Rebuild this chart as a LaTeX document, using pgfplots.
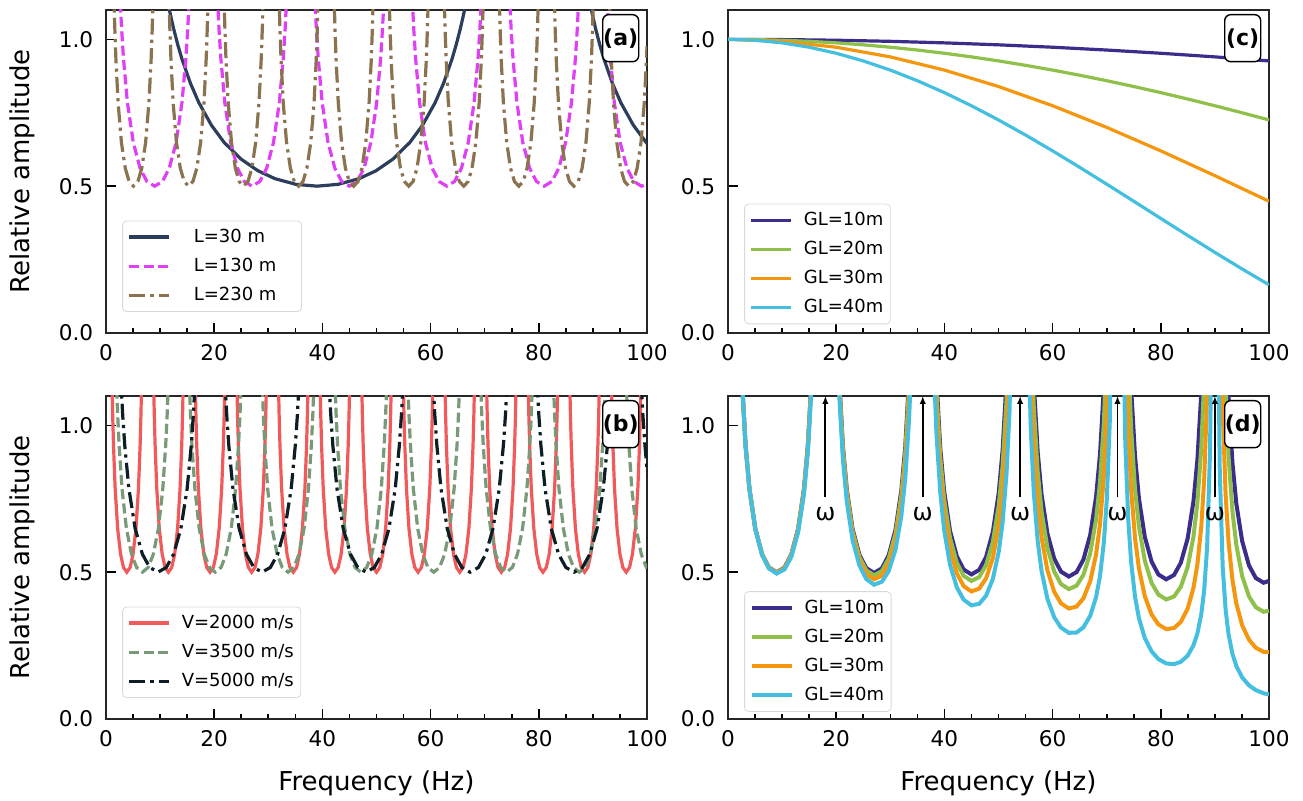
\documentclass[border=0pt]{standalone}
\usepackage{fontspec}
\setmainfont{DejaVu Sans}
\usepackage{pgfplots}
\pgfplotsset{compat=1.18}
\usetikzlibrary{arrows.meta}

\definecolor{cNavy}{HTML}{2C3E5C}
\definecolor{cMag}{HTML}{E040F5}
\definecolor{cBrown}{HTML}{8B7350}
\definecolor{cRed}{HTML}{F05A5A}
\definecolor{cSage}{HTML}{789A78}
\definecolor{cBlk}{HTML}{0D1F24}
\definecolor{cPur}{HTML}{3B2D8C}
\definecolor{cGrn}{HTML}{8FC04A}
\definecolor{cOra}{HTML}{F5960F}
\definecolor{cCya}{HTML}{45BFE0}

\tikzset{
  plab/.style={draw=black, line width=0.7pt, rounded corners=3pt, fill=white,
    inner sep=0pt, minimum width=18pt, minimum height=23.5pt,
    font=\bfseries\fontsize{11}{13}\selectfont, anchor=north east, xshift=-3.8pt, yshift=-2pt},
}
\pgfplotsset{
  panel/.style={
    scale only axis, width=270.5pt, height=161.5pt,
    anchor=south west,
    xmin=0, xmax=100, ymin=0, ymax=1.1,
    xtick={0,20,40,60,80,100}, ytick={0,0.5,1},
    minor x tick num=3,
    tick align=inside, xtick pos=left, ytick pos=left,
    major tick length=5pt, minor tick length=2.5pt,
    every tick/.append style={black, line width=0.8pt},
    axis line style={black!85, line width=0.8pt},
    tick label style={font=\fontsize{10.8}{12}\selectfont},
    /pgf/number format/assume math mode=true,
    yticklabel style={/pgf/number format/fixed, /pgf/number format/fixed zerofill, /pgf/number format/precision=1, xshift=-2.9pt},
    xticklabel style={yshift=-2.4pt},
    label style={font=\fontsize{13}{15}\selectfont},
    ylabel style={at={(axis description cs:-0.155,0.5)}, anchor=center},
    xlabel style={at={(axis description cs:0.5,-0.2)}, anchor=center},
    legend cell align=left,
    legend image code/.code={\draw[##1] (0pt,0pt) -- (20pt,0pt);},
    legend style={draw=black!15, rounded corners=2pt, fill=white,
      font=\fontsize{9}{10.8}\selectfont, inner xsep=2.5pt, inner ysep=3pt,
      row sep=4.4pt, nodes={inner sep=1pt}, anchor=south west,
      /tikz/every odd column/.append style={column sep=4.5pt}},
  },
}

\begin{document}
\begin{tikzpicture}
\path[use as bounding box] (0,0) rectangle (651.5pt,400.5pt);

% ---------------- (a) ----------------
\begin{axis}[panel, at={(53pt,234pt)}, ylabel={Relative amplitude},
  legend style={at={(0.03,0.065)}}]
\addplot[cNavy, line width=1.6pt] coordinates {
(10.92,1.1743)(11.70,1.1013)(12.48,1.0379)(13.26,0.9822)(14.04,0.9331)(15.60,0.8507)(17.16,0.7844)(19.50,0.7071)(21.84,0.6489)(24.96,0.5922)(28.08,0.5526)(31.20,0.5257)(35.10,0.5062)(39.00,0.5)(42.90,0.5062)(46.80,0.5257)(49.92,0.5526)(53.04,0.5922)(56.16,0.6489)(58.50,0.7071)(60.84,0.7844)(62.40,0.8507)(63.96,0.9331)(64.74,0.9822)(65.52,1.0379)(66.30,1.1013)(67.08,1.1743)
(88.92,1.1743)(89.70,1.1013)(90.48,1.0379)(91.26,0.9822)(92.04,0.9331)(93.60,0.8507)(95.16,0.7844)(97.50,0.7071)(99.84,0.6489)(100,0.6456)};
\addlegendentry{\hspace*{6pt}L=30 m\hspace*{9pt}}
\addplot[cMag, line width=1.6pt, dash pattern=on 5pt off 2.2pt] coordinates {
(2.52,1.1743)(2.88,1.0379)(3.24,0.9331)(3.96,0.7844)(5.04,0.6489)(6.30,0.5612)(7.56,0.5162)(9.00,0.5)(10.44,0.5162)(11.70,0.5612)(12.96,0.6489)(14.04,0.7844)(14.76,0.9331)(15.12,1.0379)(15.48,1.1743)
(20.52,1.1743)(20.88,1.0379)(21.24,0.9331)(21.96,0.7844)(23.04,0.6489)(24.30,0.5612)(25.56,0.5162)(27.00,0.5)(28.44,0.5162)(29.70,0.5612)(30.96,0.6489)(32.04,0.7844)(32.76,0.9331)(33.12,1.0379)(33.48,1.1743)
(38.52,1.1743)(38.88,1.0379)(39.24,0.9331)(39.96,0.7844)(41.04,0.6489)(42.30,0.5612)(43.56,0.5162)(45.00,0.5)(46.44,0.5162)(47.70,0.5612)(48.96,0.6489)(50.04,0.7844)(50.76,0.9331)(51.12,1.0379)(51.48,1.1743)
(56.52,1.1743)(56.88,1.0379)(57.24,0.9331)(57.96,0.7844)(59.04,0.6489)(60.30,0.5612)(61.56,0.5162)(63.00,0.5)(64.44,0.5162)(65.70,0.5612)(66.96,0.6489)(68.04,0.7844)(68.76,0.9331)(69.12,1.0379)(69.48,1.1743)
(74.52,1.1743)(74.88,1.0379)(75.24,0.9331)(75.96,0.7844)(77.04,0.6489)(78.30,0.5612)(79.56,0.5162)(81.00,0.5)(82.44,0.5162)(83.70,0.5612)(84.96,0.6489)(86.04,0.7844)(86.76,0.9331)(87.12,1.0379)(87.48,1.1743)
(92.52,1.1743)(92.88,1.0379)(93.24,0.9331)(93.96,0.7844)(95.04,0.6489)(96.30,0.5612)(97.56,0.5162)(99.00,0.5)(100,0.5077)};
\addlegendentry{\hspace*{6pt}L=130 m\hspace*{9pt}}
\addplot[cBrown, line width=1.6pt, dash pattern=on 8pt off 2.6pt on 1.6pt off 2.6pt] coordinates {
(1.424,1.1743)(1.628,1.0379)(1.831,0.9331)(2.238,0.7844)(2.849,0.6489)(3.561,0.5612)(4.273,0.5162)(5.087,0.5)(5.901,0.5162)(6.613,0.5612)(7.325,0.6489)(7.936,0.7844)(8.343,0.9331)(8.546,1.0379)(8.750,1.1743)
(11.598,1.1743)(11.802,1.0379)(12.005,0.9331)(12.412,0.7844)(13.023,0.6489)(13.735,0.5612)(14.447,0.5162)(15.261,0.5)(16.075,0.5162)(16.787,0.5612)(17.499,0.6489)(18.110,0.7844)(18.517,0.9331)(18.720,1.0379)(18.924,1.1743)
(21.772,1.1743)(21.976,1.0379)(22.179,0.9331)(22.586,0.7844)(23.197,0.6489)(23.909,0.5612)(24.621,0.5162)(25.435,0.5)(26.249,0.5162)(26.961,0.5612)(27.673,0.6489)(28.284,0.7844)(28.691,0.9331)(28.894,1.0379)(29.098,1.1743)
(31.946,1.1743)(32.150,1.0379)(32.353,0.9331)(32.760,0.7844)(33.371,0.6489)(34.083,0.5612)(34.795,0.5162)(35.609,0.5)(36.423,0.5162)(37.135,0.5612)(37.847,0.6489)(38.458,0.7844)(38.865,0.9331)(39.068,1.0379)(39.272,1.1743)
(42.120,1.1743)(42.324,1.0379)(42.527,0.9331)(42.934,0.7844)(43.545,0.6489)(44.257,0.5612)(44.969,0.5162)(45.783,0.5)(46.597,0.5162)(47.309,0.5612)(48.021,0.6489)(48.632,0.7844)(49.039,0.9331)(49.242,1.0379)(49.446,1.1743)
(52.294,1.1743)(52.498,1.0379)(52.701,0.9331)(53.108,0.7844)(53.719,0.6489)(54.431,0.5612)(55.143,0.5162)(55.957,0.5)(56.771,0.5162)(57.483,0.5612)(58.195,0.6489)(58.806,0.7844)(59.213,0.9331)(59.416,1.0379)(59.620,1.1743)
(62.468,1.1743)(62.672,1.0379)(62.875,0.9331)(63.282,0.7844)(63.893,0.6489)(64.605,0.5612)(65.317,0.5162)(66.131,0.5)(66.945,0.5162)(67.657,0.5612)(68.369,0.6489)(68.980,0.7844)(69.387,0.9331)(69.590,1.0379)(69.794,1.1743)
(72.642,1.1743)(72.846,1.0379)(73.049,0.9331)(73.456,0.7844)(74.067,0.6489)(74.779,0.5612)(75.491,0.5162)(76.305,0.5)(77.119,0.5162)(77.831,0.5612)(78.543,0.6489)(79.154,0.7844)(79.561,0.9331)(79.764,1.0379)(79.968,1.1743)
(82.816,1.1743)(83.020,1.0379)(83.223,0.9331)(83.630,0.7844)(84.241,0.6489)(84.953,0.5612)(85.665,0.5162)(86.479,0.5)(87.293,0.5162)(88.005,0.5612)(88.717,0.6489)(89.328,0.7844)(89.735,0.9331)(89.938,1.0379)(90.142,1.1743)
(92.990,1.1743)(93.194,1.0379)(93.397,0.9331)(93.804,0.7844)(94.415,0.6489)(95.127,0.5612)(95.839,0.5162)(96.653,0.5)(97.467,0.5162)(98.179,0.5612)(98.891,0.6489)(99.502,0.7844)(99.909,0.9331)(100,0.9771)};
\addlegendentry{\hspace*{6pt}L=230 m\hspace*{9pt}}
\node[plab] at (rel axis cs:1,1) {(a)};
\end{axis}

% ---------------- (c) ----------------
\begin{axis}[panel, at={(364pt,234pt)}, legend style={at={(0.03,0.027)}}]
\addplot[cPur, line width=1.6pt] coordinates {(0,1)(10,0.99925)(20,0.99700)(30,0.99325)(40,0.98803)(50,0.98133)(60,0.97318)(70,0.96360)(80,0.95262)(90,0.94027)(100,0.92657)};
\addlegendentry{GL=10m}
\addplot[cGrn, line width=1.6pt] coordinates {(0,1)(5,0.99925)(10,0.99700)(15,0.99325)(20,0.98803)(25,0.98133)(30,0.97318)(35,0.96360)(40,0.95262)(45,0.94027)(50,0.92657)(55,0.91157)(60,0.89531)(65,0.87782)(70,0.85916)(75,0.83938)(80,0.81853)(85,0.79665)(90,0.77383)(95,0.75010)(100,0.72553)};
\addlegendentry{GL=20m}
\addplot[cOra, line width=1.6pt] coordinates {(0,1)(10,0.99325)(20,0.97318)(30,0.94027)(40,0.89531)(50,0.83938)(60,0.77383)(70,0.70019)(80,0.62021)(90,0.53570)(100,0.44862)};
\addlegendentry{GL=30m}
\addplot[cCya, line width=1.6pt] coordinates {(0,1)(5,0.99700)(10,0.98803)(15,0.97318)(20,0.95262)(25,0.92657)(30,0.89531)(35,0.85916)(40,0.81853)(45,0.77383)(50,0.72553)(55,0.67414)(60,0.62021)(65,0.56425)(70,0.50687)(75,0.44862)(80,0.39008)(85,0.33183)(90,0.27441)(95,0.21834)(100,0.16416)};
\addlegendentry{GL=40m}
\node[plab] at (rel axis cs:1,1) {(c)};
\end{axis}

% ---------------- (b) ----------------
\begin{axis}[panel, at={(53pt,41pt)}, ylabel={Relative amplitude}, xlabel={Frequency (Hz)},
  legend style={at={(0.03,0.065)}}]
\addplot[cRed, line width=1.6pt] coordinates {
(1.077,1.1743)(1.231,1.0379)(1.385,0.9331)(1.692,0.7844)(2.154,0.6489)(2.692,0.5612)(3.231,0.5162)(3.846,0.5)(4.462,0.5162)(5.000,0.5612)(5.538,0.6489)(6.000,0.7844)(6.308,0.9331)(6.462,1.0379)(6.615,1.1743)
(8.769,1.1743)(8.923,1.0379)(9.077,0.9331)(9.384,0.7844)(9.846,0.6489)(10.384,0.5612)(10.923,0.5162)(11.538,0.5)(12.154,0.5162)(12.692,0.5612)(13.230,0.6489)(13.692,0.7844)(14.000,0.9331)(14.154,1.0379)(14.307,1.1743)
(16.462,1.1743)(16.616,1.0379)(16.770,0.9331)(17.077,0.7844)(17.539,0.6489)(18.077,0.5612)(18.616,0.5162)(19.231,0.5)(19.847,0.5162)(20.385,0.5612)(20.923,0.6489)(21.385,0.7844)(21.693,0.9331)(21.847,1.0379)(22.000,1.1743)
(24.154,1.1743)(24.308,1.0379)(24.462,0.9331)(24.769,0.7844)(25.231,0.6489)(25.769,0.5612)(26.308,0.5162)(26.923,0.5)(27.539,0.5162)(28.077,0.5612)(28.615,0.6489)(29.077,0.7844)(29.385,0.9331)(29.539,1.0379)(29.692,1.1743)
(31.846,1.1743)(32.000,1.0379)(32.154,0.9331)(32.461,0.7844)(32.923,0.6489)(33.461,0.5612)(34.000,0.5162)(34.615,0.5)(35.231,0.5162)(35.769,0.5612)(36.307,0.6489)(36.769,0.7844)(37.077,0.9331)(37.231,1.0379)(37.384,1.1743)
(39.539,1.1743)(39.693,1.0379)(39.847,0.9331)(40.154,0.7844)(40.616,0.6489)(41.154,0.5612)(41.693,0.5162)(42.308,0.5)(42.924,0.5162)(43.462,0.5612)(44.000,0.6489)(44.462,0.7844)(44.770,0.9331)(44.924,1.0379)(45.077,1.1743)
(47.231,1.1743)(47.385,1.0379)(47.539,0.9331)(47.846,0.7844)(48.308,0.6489)(48.846,0.5612)(49.385,0.5162)(50.000,0.5)(50.616,0.5162)(51.154,0.5612)(51.692,0.6489)(52.154,0.7844)(52.462,0.9331)(52.616,1.0379)(52.769,1.1743)
(54.923,1.1743)(55.077,1.0379)(55.231,0.9331)(55.538,0.7844)(56.000,0.6489)(56.538,0.5612)(57.077,0.5162)(57.692,0.5)(58.308,0.5162)(58.846,0.5612)(59.384,0.6489)(59.846,0.7844)(60.154,0.9331)(60.308,1.0379)(60.461,1.1743)
(62.615,1.1743)(62.769,1.0379)(62.923,0.9331)(63.230,0.7844)(63.692,0.6489)(64.230,0.5612)(64.769,0.5162)(65.384,0.5)(66.000,0.5162)(66.538,0.5612)(67.076,0.6489)(67.538,0.7844)(67.846,0.9331)(68.000,1.0379)(68.153,1.1743)
(70.308,1.1743)(70.462,1.0379)(70.616,0.9331)(70.923,0.7844)(71.385,0.6489)(71.923,0.5612)(72.462,0.5162)(73.077,0.5)(73.693,0.5162)(74.231,0.5612)(74.769,0.6489)(75.231,0.7844)(75.539,0.9331)(75.693,1.0379)(75.846,1.1743)
(78.000,1.1743)(78.154,1.0379)(78.308,0.9331)(78.615,0.7844)(79.077,0.6489)(79.615,0.5612)(80.154,0.5162)(80.769,0.5)(81.385,0.5162)(81.923,0.5612)(82.461,0.6489)(82.923,0.7844)(83.231,0.9331)(83.385,1.0379)(83.538,1.1743)
(85.692,1.1743)(85.846,1.0379)(86.000,0.9331)(86.307,0.7844)(86.769,0.6489)(87.307,0.5612)(87.846,0.5162)(88.461,0.5)(89.077,0.5162)(89.615,0.5612)(90.153,0.6489)(90.615,0.7844)(90.923,0.9331)(91.077,1.0379)(91.230,1.1743)
(93.385,1.1743)(93.539,1.0379)(93.693,0.9331)(94.000,0.7844)(94.462,0.6489)(95.000,0.5612)(95.539,0.5162)(96.154,0.5)(96.770,0.5162)(97.308,0.5612)(97.846,0.6489)(98.308,0.7844)(98.616,0.9331)(98.770,1.0379)(98.923,1.1743)};
\addlegendentry{V=2000 m/s}
\addplot[cSage, line width=1.6pt, dash pattern=on 5pt off 2.2pt] coordinates {
(1.885,1.1743)(2.154,1.0379)(2.423,0.9331)(2.962,0.7844)(3.769,0.6489)(4.712,0.5612)(5.654,0.5162)(6.731,0.5)(7.808,0.5162)(8.750,0.5612)(9.692,0.6489)(10.500,0.7844)(11.038,0.9331)(11.308,1.0379)(11.577,1.1743)
(15.347,1.1743)(15.616,1.0379)(15.885,0.9331)(16.424,0.7844)(17.231,0.6489)(18.174,0.5612)(19.116,0.5162)(20.193,0.5)(21.270,0.5162)(22.212,0.5612)(23.154,0.6489)(23.962,0.7844)(24.500,0.9331)(24.770,1.0379)(25.039,1.1743)
(28.808,1.1743)(29.077,1.0379)(29.346,0.9331)(29.885,0.7844)(30.692,0.6489)(31.635,0.5612)(32.577,0.5162)(33.654,0.5)(34.731,0.5162)(35.673,0.5612)(36.615,0.6489)(37.423,0.7844)(37.961,0.9331)(38.231,1.0379)(38.500,1.1743)
(42.270,1.1743)(42.539,1.0379)(42.808,0.9331)(43.347,0.7844)(44.154,0.6489)(45.097,0.5612)(46.039,0.5162)(47.116,0.5)(48.193,0.5162)(49.135,0.5612)(50.077,0.6489)(50.885,0.7844)(51.423,0.9331)(51.693,1.0379)(51.962,1.1743)
(55.731,1.1743)(56.000,1.0379)(56.269,0.9331)(56.808,0.7844)(57.615,0.6489)(58.558,0.5612)(59.500,0.5162)(60.577,0.5)(61.654,0.5162)(62.596,0.5612)(63.538,0.6489)(64.346,0.7844)(64.884,0.9331)(65.154,1.0379)(65.423,1.1743)
(69.193,1.1743)(69.462,1.0379)(69.731,0.9331)(70.270,0.7844)(71.077,0.6489)(72.020,0.5612)(72.962,0.5162)(74.039,0.5)(75.116,0.5162)(76.058,0.5612)(77.000,0.6489)(77.808,0.7844)(78.346,0.9331)(78.616,1.0379)(78.885,1.1743)
(82.654,1.1743)(82.923,1.0379)(83.192,0.9331)(83.731,0.7844)(84.538,0.6489)(85.481,0.5612)(86.423,0.5162)(87.500,0.5)(88.577,0.5162)(89.519,0.5612)(90.461,0.6489)(91.269,0.7844)(91.807,0.9331)(92.077,1.0379)(92.346,1.1743)
(96.116,1.1743)(96.385,1.0379)(96.654,0.9331)(97.193,0.7844)(98.000,0.6489)(98.943,0.5612)(99.885,0.5162)(100,0.5129)};
\addlegendentry{V=3500 m/s}
\addplot[cBlk, line width=1.6pt, dash pattern=on 8pt off 2.6pt on 1.6pt off 2.6pt] coordinates {
(2.692,1.1743)(3.077,1.0379)(3.462,0.9331)(4.231,0.7844)(5.385,0.6489)(6.731,0.5612)(8.077,0.5162)(9.615,0.5)(11.154,0.5162)(12.500,0.5612)(13.846,0.6489)(15.000,0.7844)(15.769,0.9331)(16.154,1.0379)(16.538,1.1743)
(21.923,1.1743)(22.308,1.0379)(22.693,0.9331)(23.462,0.7844)(24.616,0.6489)(25.962,0.5612)(27.308,0.5162)(28.846,0.5)(30.385,0.5162)(31.731,0.5612)(33.077,0.6489)(34.231,0.7844)(35.000,0.9331)(35.385,1.0379)(35.769,1.1743)
(41.154,1.1743)(41.539,1.0379)(41.924,0.9331)(42.693,0.7844)(43.847,0.6489)(45.193,0.5612)(46.539,0.5162)(48.077,0.5)(49.616,0.5162)(50.962,0.5612)(52.308,0.6489)(53.462,0.7844)(54.231,0.9331)(54.616,1.0379)(55.000,1.1743)
(60.384,1.1743)(60.769,1.0379)(61.154,0.9331)(61.923,0.7844)(63.077,0.6489)(64.423,0.5612)(65.769,0.5162)(67.307,0.5)(68.846,0.5162)(70.192,0.5612)(71.538,0.6489)(72.692,0.7844)(73.461,0.9331)(73.846,1.0379)(74.230,1.1743)
(79.615,1.1743)(80.000,1.0379)(80.385,0.9331)(81.154,0.7844)(82.308,0.6489)(83.654,0.5612)(85.000,0.5162)(86.538,0.5)(88.077,0.5162)(89.423,0.5612)(90.769,0.6489)(91.923,0.7844)(92.692,0.9331)(93.077,1.0379)(93.461,1.1743)
(98.846,1.1743)(99.231,1.0379)(99.616,0.9331)(100,0.8507)};
\addlegendentry{V=5000 m/s}
\node[plab] at (rel axis cs:1,1) {(b)};
\end{axis}

% ---------------- (d) ----------------
\begin{axis}[panel, at={(364pt,41pt)}, xlabel={Frequency (Hz)}, legend style={at={(0.03,0.022)}}]
\addplot[cPur, line width=2pt] coordinates {
(2.52,1.1742)(3.24,0.9331)(3.96,0.7843)(5.04,0.6488)(6.30,0.5610)(7.56,0.5160)(9.00,0.4997)(10.44,0.5158)(11.70,0.5606)(12.96,0.6481)(14.04,0.7833)(14.76,0.9316)(15.48,1.1722)(16.02,1.4733)
(19.98,1.4717)(20.52,1.1706)(21.24,0.9300)(21.96,0.7816)(23.04,0.6463)(24.30,0.5587)(25.56,0.5137)(27.00,0.4973)(28.44,0.5131)(29.70,0.5575)(30.96,0.6443)(32.04,0.7784)(32.76,0.9256)(33.48,1.1644)(34.02,1.4633)(34.56,1.9925)
(37.44,1.9894)(37.98,1.4602)(38.52,1.1613)(39.24,0.9224)(39.96,0.7750)(41.04,0.6407)(42.30,0.5537)(43.56,0.5089)(45.00,0.4924)(46.44,0.5079)(47.70,0.5516)(48.96,0.6373)(50.04,0.7697)(50.76,0.9152)(51.48,1.1511)(52.02,1.4463)(52.56,1.9690)(53.10,3.1290)
(54.90,3.1244)(55.44,1.9644)(55.98,1.4416)(56.52,1.1463)(57.24,0.9103)(57.96,0.7648)(59.04,0.6321)(60.30,0.5460)(61.56,0.5017)(63.00,0.4852)(64.44,0.5003)(65.70,0.5432)(66.96,0.6273)(68.04,0.7574)(68.76,0.9004)(69.48,1.1322)(70.02,1.4224)(70.56,1.9362)(71.10,3.0763)(71.46,5.1117)
(72.54,5.1056)(72.90,3.0701)(73.44,1.9300)(73.98,1.4162)(74.52,1.1259)(75.24,0.8940)(75.96,0.7509)(77.04,0.6204)(78.30,0.5357)(79.56,0.4920)(81.00,0.4757)(82.44,0.4903)(83.70,0.5321)(84.96,0.6143)(86.04,0.7415)(86.76,0.8813)(87.48,1.1080)(88.02,1.3917)(88.56,1.8942)(89.10,3.0090)(89.46,4.9995)
(90.54,4.9920)(90.90,3.0015)(91.44,1.8866)(91.98,1.3841)(92.52,1.1003)(93.24,0.8734)(93.96,0.7334)(95.04,0.6058)(96.30,0.5229)(97.56,0.4801)(99.00,0.4640)(100,0.4704)};
\addlegendentry{GL=10m}
\addplot[cGrn, line width=2pt] coordinates {
(2.52,1.1741)(3.24,0.9328)(3.96,0.7840)(5.04,0.6484)(6.30,0.5605)(7.56,0.5153)(9.00,0.4988)(10.44,0.5145)(11.70,0.5589)(12.96,0.6457)(14.04,0.7798)(14.76,0.9270)(15.48,1.1659)(16.02,1.4648)
(19.98,1.4585)(20.52,1.1595)(21.24,0.9205)(21.96,0.7731)(23.04,0.6386)(24.30,0.5513)(25.56,0.5062)(27.00,0.4891)(28.44,0.5038)(29.70,0.5464)(30.96,0.6304)(32.04,0.7605)(32.76,0.9033)(33.48,1.1352)(34.02,1.4253)(34.56,1.9391)
(37.44,1.9269)(37.98,1.4130)(38.52,1.1227)(39.24,0.8906)(39.96,0.7473)(41.04,0.6166)(42.30,0.5315)(43.56,0.4873)(45.00,0.4701)(46.44,0.4834)(47.70,0.5236)(48.96,0.6032)(50.04,0.7267)(50.76,0.8626)(51.48,1.0830)(52.02,1.3590)(52.56,1.8478)(53.10,2.9323)
(54.90,2.9145)(55.44,1.8298)(55.98,1.3409)(56.52,1.0647)(57.24,0.8438)(57.96,0.7075)(59.04,0.5830)(60.30,0.5018)(61.56,0.4594)(63.00,0.4424)(64.44,0.4542)(65.70,0.4911)(66.96,0.5649)(68.04,0.6797)(68.76,0.8060)(69.48,1.0112)(70.02,1.2681)(70.56,1.7229)(71.10,2.7322)(71.46,4.5341)
(72.54,4.5114)(72.90,2.7094)(73.44,1.7000)(73.98,1.2450)(74.52,0.9879)(75.24,0.7823)(75.96,0.6553)(77.04,0.5392)(78.30,0.4633)(79.56,0.4235)(81.00,0.4071)(82.44,0.4170)(83.70,0.4502)(84.96,0.5171)(86.04,0.6212)(86.76,0.7359)(87.48,0.9222)(88.02,1.1556)(88.56,1.5690)(89.10,2.4865)(89.46,4.1245)
(90.54,4.0978)(90.90,2.4597)(91.44,1.5421)(91.98,1.1284)(92.52,0.8947)(93.24,0.7077)(93.96,0.5923)(95.04,0.4866)(96.30,0.4173)(97.56,0.3807)(99.00,0.3652)(100,0.3684)};
\addlegendentry{GL=20m}
\addplot[cOra, line width=2pt] coordinates {
(2.52,1.1738)(3.24,0.9325)(3.96,0.7836)(5.04,0.6478)(6.30,0.5597)(7.56,0.5142)(9.00,0.4973)(10.44,0.5124)(11.70,0.5560)(12.96,0.6416)(14.04,0.7740)(14.76,0.9195)(15.48,1.1554)(16.02,1.4506)
(19.98,1.4366)(20.52,1.1412)(21.24,0.9049)(21.96,0.7591)(23.04,0.6259)(24.30,0.5390)(25.56,0.4937)(27.00,0.4757)(28.44,0.4885)(29.70,0.5283)(30.96,0.6077)(32.04,0.7311)(32.76,0.8669)(33.48,1.0873)(34.02,1.3633)(34.56,1.8521)
(37.44,1.8251)(37.98,1.3361)(38.52,1.0598)(39.24,0.8389)(39.96,0.7025)(41.04,0.5774)(42.30,0.4956)(43.56,0.4525)(45.00,0.4343)(46.44,0.4442)(47.70,0.4787)(48.96,0.5487)(50.04,0.6582)(50.76,0.7788)(51.48,0.9748)(52.02,1.2204)(52.56,1.6554)(53.10,2.6209)
(54.90,2.5833)(55.44,1.6179)(55.98,1.1826)(56.52,0.9366)(57.24,0.7397)(57.96,0.6180)(59.04,0.5064)(60.30,0.4330)(61.56,0.3937)(63.00,0.3762)(64.44,0.3830)(65.70,0.4111)(66.96,0.4694)(68.04,0.5609)(68.76,0.6622)(69.48,0.8269)(70.02,1.0333)(70.56,1.3989)(71.10,2.2105)(71.46,3.6596)
(72.54,3.6147)(72.90,2.1655)(73.44,1.3537)(73.98,0.9875)(74.52,0.7805)(75.24,0.6148)(75.96,0.5123)(77.04,0.4182)(78.30,0.3558)(79.56,0.3220)(81.00,0.3059)(82.44,0.3097)(83.70,0.3307)(84.96,0.3755)(86.04,0.4468)(86.76,0.5258)(87.48,0.6544)(88.02,0.8158)(88.56,1.1018)(89.10,1.7369)(89.46,2.8708)
(90.54,2.8214)(90.90,1.6873)(91.44,1.0520)(91.98,0.7655)(92.52,0.6035)(93.24,0.4737)(93.96,0.3933)(95.04,0.3193)(96.30,0.2699)(97.56,0.2426)(99.00,0.2287)(100,0.2278)};
\addlegendentry{GL=30m}
\addplot[cCya, line width=2pt] coordinates {
(2.52,1.1734)(3.24,0.9320)(3.96,0.7829)(5.04,0.6469)(6.30,0.5585)(7.56,0.5127)(9.00,0.4952)(10.44,0.5095)(11.70,0.5520)(12.96,0.6359)(14.04,0.7660)(14.76,0.9089)(15.48,1.1408)(16.02,1.4310)
(19.98,1.4063)(20.52,1.1158)(21.24,0.8834)(21.96,0.7397)(23.04,0.6083)(24.30,0.5222)(25.56,0.4766)(27.00,0.4573)(28.44,0.4675)(29.70,0.5035)(30.96,0.5767)(32.04,0.6912)(32.76,0.8174)(33.48,1.0224)(34.02,1.2792)(34.56,1.7341)
(37.44,1.6885)(37.98,1.2331)(38.52,0.9757)(39.24,0.7697)(39.96,0.6423)(41.04,0.5253)(42.30,0.4480)(43.56,0.4063)(45.00,0.3869)(46.44,0.3924)(47.70,0.4198)(48.96,0.4774)(50.04,0.5688)(50.76,0.6698)(51.48,0.8344)(52.02,1.0407)(52.56,1.4065)(53.10,2.2180)
(54.90,2.1580)(55.44,1.3459)(55.98,0.9797)(56.52,0.7726)(57.24,0.6068)(57.96,0.5039)(59.04,0.4093)(60.30,0.3462)(61.56,0.3112)(63.00,0.2934)(64.44,0.2945)(65.70,0.3122)(66.96,0.3516)(68.04,0.4153)(68.76,0.4863)(69.48,0.6023)(70.02,0.7479)(70.56,1.0060)(71.10,1.5792)(71.46,2.6029)
(72.54,2.5362)(72.90,1.5123)(73.44,0.9386)(73.98,0.6798)(74.52,0.5334)(75.24,0.4160)(75.96,0.3431)(77.04,0.2756)(78.30,0.2301)(79.56,0.2040)(81.00,0.1892)(82.44,0.1867)(83.70,0.1947)(84.96,0.2156)(86.04,0.2509)(86.76,0.2907)(87.48,0.3561)(88.02,0.4385)(88.56,0.5848)(89.10,0.9100)(89.46,1.4908)
(90.54,1.4256)(90.90,0.8446)(91.44,0.5190)(91.98,0.3720)(92.52,0.2888)(93.24,0.2220)(93.96,0.1804)(95.04,0.1414)(96.30,0.1145)(97.56,0.0983)(99.00,0.0875)(100,0.0834)};
\addlegendentry{GL=40m}
\draw[-{Latex[length=4pt,width=3.2pt]}, line width=0.9pt, black] (axis cs:18,0.755) -- (axis cs:18,1.1);
\draw[-{Latex[length=4pt,width=3.2pt]}, line width=0.9pt, black] (axis cs:36,0.755) -- (axis cs:36,1.1);
\draw[-{Latex[length=4pt,width=3.2pt]}, line width=0.9pt, black] (axis cs:54,0.755) -- (axis cs:54,1.1);
\draw[-{Latex[length=4pt,width=3.2pt]}, line width=0.9pt, black] (axis cs:72,0.755) -- (axis cs:72,1.1);
\draw[-{Latex[length=4pt,width=3.2pt]}, line width=0.9pt, black] (axis cs:90,0.755) -- (axis cs:90,1.1);
\node[font=\fontsize{12}{14}\selectfont, inner sep=0pt] at (axis cs:18,0.698) {ω};
\node[font=\fontsize{12}{14}\selectfont, inner sep=0pt] at (axis cs:36,0.698) {ω};
\node[font=\fontsize{12}{14}\selectfont, inner sep=0pt] at (axis cs:54,0.698) {ω};
\node[font=\fontsize{12}{14}\selectfont, inner sep=0pt] at (axis cs:72,0.698) {ω};
\node[font=\fontsize{12}{14}\selectfont, inner sep=0pt] at (axis cs:90,0.698) {ω};
\node[plab] at (rel axis cs:1,1) {(d)};
\end{axis}
\end{tikzpicture}
\end{document}
